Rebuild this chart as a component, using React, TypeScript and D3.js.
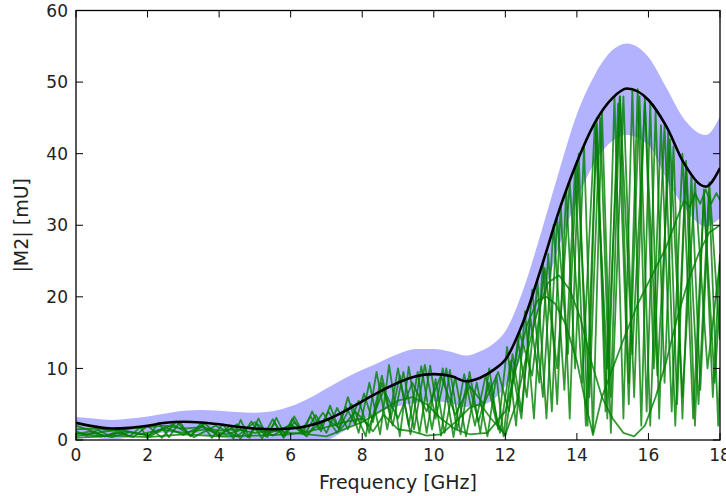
import React from 'react';
import * as d3 from 'd3';

// frequency grid for the mean curve and its spread band [GHz]
const bandFreq = [0, 0.5, 1, 1.5, 2, 2.5, 3, 3.5, 4, 4.5, 5, 5.5, 6, 6.5, 7, 7.5, 8, 8.5, 9, 9.5, 10, 10.5, 10.9, 11.3, 11.7, 12, 12.5, 13, 13.5, 14, 14.5, 15, 15.4, 16, 16.5, 17, 17.6, 18];
const meanVals = [2.4, 1.9, 1.6, 1.7, 2.0, 2.4, 2.55, 2.45, 2.2, 1.85, 1.6, 1.5, 1.6, 2.0, 2.8, 4.0, 5.4, 6.8, 8.0, 8.9, 9.2, 8.9, 8.2, 8.7, 9.9, 11.2, 16.5, 24, 32, 38.8, 44.3, 47.8, 49.1, 47.5, 43.8, 38.6, 35.4, 38];
const upperVals = [3.2, 3.0, 2.8, 3.0, 3.3, 3.7, 4.1, 4.2, 4.1, 3.9, 3.8, 4.0, 4.7, 5.8, 7.2, 8.6, 9.8, 10.9, 12.0, 12.7, 12.7, 12.3, 11.8, 12.4, 13.6, 15.2, 21, 29, 37.5, 45.5, 51, 54.5, 55.4, 53.5, 49.2, 44.8, 42.6, 45.2];
const lowerVals = [0.6, 0.3, 0.1, 0.4, 0.8, 1.0, 1.0, 0.8, 0.4, 0, -0.4, -0.8, -1.0, -0.7, -0.1, 1.3, 2.8, 4.0, 4.7, 5.2, 5.4, 5.1, 4.6, 4.8, 5.8, 7.5, 12, 19, 27, 33.5, 38.8, 41.8, 42.6, 41.2, 36.5, 32.5, 29.8, 31];

// individual traces, [freq, |M2|] turning points
const trace1: [number, number][] = [[0, 1.2], [0.3, 0.6], [0.6, 1.4], [0.9, 0.7], [1.2, 1.3], [1.5, 0.5], [1.8, 1.8], [2.0, 0.2], [2.3, 2.4], [2.6, 0.4], [2.9, 2.5], [3.2, 0.5], [3.5, 2.4], [3.8, 0.3], [4.1, 2.2], [4.4, 0.2], [4.6, 2.8], [4.85, 0.3], [5.1, 3.0], [5.35, 0.4], [5.6, 3.1], [5.85, 0.6], [6.1, 3.3], [6.35, 1.0], [6.6, 4.0], [6.85, 1.2], [7.1, 4.8], [7.35, 1.5], [7.6, 6.0], [7.9, 1.0], [8.2, 8.0], [8.5, 0.8], [8.75, 10.5], [9.05, 0.5], [9.3, 10.2], [9.6, 1.0], [9.9, 10.4], [10.2, 0.6], [10.45, 9.8], [10.75, 0.8], [11.0, 9.5], [11.3, 1.0], [11.55, 10], [11.8, 1.5], [12.05, 13], [12.3, 2.0], [12.55, 18], [12.8, 3], [13.05, 25], [13.3, 4], [13.55, 33], [13.8, 3], [14.05, 40], [14.3, 2], [14.55, 45], [14.8, 4], [15.05, 48], [15.3, 3], [15.55, 49], [15.8, 2], [16.05, 47], [16.3, 3], [16.55, 43], [16.8, 5], [17.05, 38], [17.3, 2], [17.55, 35], [17.8, 6], [18, 26]];
const trace2: [number, number][] = [[0, 0.8], [0.4, 1.2], [0.8, 0.5], [1.2, 1.0], [1.6, 0.4], [2.0, 2.0], [2.4, 0.3], [2.8, 2.6], [3.2, 0.6], [3.6, 2.3], [4.0, 0.5], [4.3, 2.0], [4.6, 0.2], [4.9, 2.6], [5.2, 0.2], [5.5, 2.9], [5.8, 0.3], [6.1, 2.5], [6.4, 0.8], [6.7, 3.5], [7.0, 1.0], [7.3, 4.5], [7.6, 1.5], [7.9, 5.5], [8.2, 1.0], [8.55, 9], [8.85, 2.0], [9.15, 9.5], [9.45, 1.5], [9.75, 10.5], [10.05, 3], [10.35, 10], [10.65, 1.5], [10.95, 8.5], [11.25, 2.5], [11.55, 8.0], [11.85, 1], [12.15, 11], [12.45, 3], [12.75, 21], [13.05, 6], [13.35, 30], [13.65, 7], [13.95, 38], [14.25, 2], [14.55, 44], [14.85, 3], [15.15, 47], [15.45, 5], [15.75, 48], [16.05, 2], [16.35, 44], [16.65, 4], [16.95, 40], [17.25, 3], [17.55, 34], [17.85, 8], [18, 20]];
const trace3: [number, number][] = [[0, 0.5], [0.5, 1.0], [1.0, 0.4], [1.5, 1.1], [2.0, 0.6], [2.5, 1.8], [3.0, 0.7], [3.5, 2.0], [4.0, 0.6], [4.5, 2.2], [4.8, 0.4], [5.05, 2.2], [5.3, 0.5], [5.55, 2.4], [5.8, 0.5], [6.05, 3.0], [6.3, 1.2], [6.55, 3.3], [6.8, 1.5], [7.05, 4.0], [7.3, 2.0], [7.55, 4.6], [7.8, 2.2], [8.05, 6.5], [8.3, 2.5], [8.55, 8.0], [8.8, 3.0], [9.05, 9.0], [9.3, 2.0], [9.55, 9.5], [9.8, 1.0], [10.05, 8.5], [10.3, 1.0], [10.6, 8.8], [10.9, 0.5], [11.2, 8.0], [11.5, 0.5], [11.75, 9], [11.95, 0.5], [12.2, 12], [12.45, 4], [12.7, 17], [12.95, 8], [13.2, 26], [13.45, 5], [13.7, 35], [13.95, 10], [14.2, 41], [14.45, 1], [14.7, 46], [14.95, 6], [15.2, 48], [15.45, 8], [15.7, 49], [15.95, 4], [16.2, 46], [16.45, 8], [16.7, 41], [16.95, 3], [17.2, 37], [17.45, 7], [17.7, 34], [17.95, 2], [18, 10]];
const trace4: [number, number][] = [[0, 1.5], [0.5, 1.6], [1.0, 1.3], [1.5, 1.6], [2.0, 1.8], [2.5, 2.0], [3.0, 1.6], [3.5, 1.8], [4.0, 1.3], [4.5, 1.5], [5.0, 1.0], [5.5, 1.3], [6.0, 1.0], [6.5, 0.8], [7.0, 0.5], [7.5, 1.5], [8.0, 2.5], [8.5, 4], [9.0, 5.5], [9.4, 6.0], [9.8, 5.0], [10.2, 3.0], [10.6, 1.5], [11.0, 0.8], [11.5, 1.0], [12.0, 4], [12.3, 10], [12.6, 16], [12.9, 19.5], [13.15, 20], [13.4, 19], [13.7, 16], [14.0, 11], [14.25, 5], [14.45, 0.7], [14.7, 6], [15.0, 10], [15.3, 14], [15.7, 19], [16.1, 23], [16.5, 27], [16.8, 31], [17.0, 33.5], [17.15, 32.5], [17.3, 34.5], [17.45, 33], [17.6, 35], [17.75, 33], [17.9, 34.5], [18, 33.5]];
const trace5: [number, number][] = [[0, 0.3], [1, 0.6], [2, 0.4], [3, 0.8], [4, 0.5], [5, 0.6], [6, 0.8], [6.5, 1.2], [7, 1.8], [7.5, 2.5], [8.0, 3.0], [8.3, 1.2], [8.6, 3.5], [9.0, 1.5], [9.4, 1.2], [9.8, 0.6], [10.2, 0.8], [10.6, 2.5], [11.0, 4.5], [11.3, 5], [11.6, 3], [12.0, 0.7], [12.3, 5], [12.6, 12], [12.9, 18], [13.2, 22], [13.5, 23], [13.8, 21], [14.1, 17], [14.4, 11], [14.7, 6], [15.0, 3], [15.3, 1], [15.6, 0.5], [15.9, 2], [16.2, 6], [16.5, 11], [16.8, 17], [17.1, 22], [17.4, 26], [17.7, 29], [18, 30]];
const trace6: [number, number][] = [[0, 2.0], [0.6, 1.0], [1.2, 1.5], [1.8, 0.8], [2.4, 1.5], [3.0, 1.0], [3.6, 1.5], [4.2, 0.8], [4.8, 1.7], [5.4, 1.0], [6.0, 2.0], [6.5, 1.0], [7.0, 3.0], [7.4, 1.5], [7.8, 4.0], [8.2, 2.0], [8.6, 7.0], [9.0, 3.0], [9.4, 8.0], [9.8, 4.0], [10.2, 9.0], [10.6, 3.5], [11.0, 7.5], [11.4, 5.0], [11.8, 9.5], [12.1, 4], [12.4, 15], [12.75, 9], [13.1, 24], [13.45, 10], [13.8, 36], [14.15, 8], [14.5, 44], [14.85, 10], [15.2, 48], [15.55, 12], [15.9, 47], [16.25, 9], [16.6, 42], [16.95, 6], [17.3, 36], [17.65, 10], [18, 25]];
const trace7: [number, number][] = [[0, 1.0], [0.7, 0.5], [1.4, 1.2], [2.1, 0.6], [2.7, 2.2], [3.3, 0.4], [3.9, 2.0], [4.5, 0.5], [5.0, 2.5], [5.5, 0.6], [6.0, 2.2], [6.45, 0.5], [6.9, 3.8], [7.3, 1.0], [7.7, 5.0], [8.1, 0.5], [8.4, 9.5], [8.7, 1.5], [9.0, 10.0], [9.35, 0.8], [9.65, 10.3], [9.95, 1.5], [10.25, 10.0], [10.55, 0.4], [10.85, 9.2], [11.15, 2.0], [11.45, 9.0], [11.75, 2.5], [12.0, 0.6], [12.35, 14], [12.6, 6], [12.9, 22], [13.15, 3], [13.45, 31], [13.75, 12], [14.0, 39], [14.35, 6], [14.65, 45], [14.95, 1], [15.3, 48], [15.6, 6], [15.9, 48], [16.15, 10], [16.45, 44], [16.75, 2], [17.05, 39], [17.4, 5], [17.7, 36], [18, 14]];

const traces = [trace1, trace2, trace3, trace4, trace5, trace6, trace7];

const xTicks = [0, 2, 4, 6, 8, 10, 12, 14, 16, 18];
const yTicks = [0, 10, 20, 30, 40, 50, 60];

const W = 726;
const H = 496;
const left = 76, right = 720, top = 10.5, bottom = 440;
const tickLen = 7;
const font = 'DejaVu Sans, sans-serif';

const App = () => {
    const x = d3.scaleLinear().domain([0, 18]).range([left, right]);
    const y = d3.scaleLinear().domain([0, 60]).range([bottom, top]);

    const band = d3.area<number>()
        .x((d, i) => x(bandFreq[i]))
        .y0((d, i) => y(lowerVals[i]))
        .y1((d, i) => y(upperVals[i]))
        .curve(d3.curveMonotoneX);

    const meanLine = d3.line<number>()
        .x((d, i) => x(bandFreq[i]))
        .y(d => y(d))
        .curve(d3.curveMonotoneX);

    const traceLine = d3.line<[number, number]>()
        .x(d => x(d[0]))
        .y(d => y(d[1]));

    return (
        <div style={{ position: 'absolute', left: 0, top: 0 }}>
            <svg width={W} height={H} style={{ display: 'block', background: '#fff' }}>
                <defs>
                    <clipPath id="plot">
                        <rect x={left} y={top} width={right - left} height={bottom - top} />
                    </clipPath>
                </defs>
                <g clipPath="url(#plot)">
                    <path d={band(bandFreq) || ''} fill="#0000ff" fillOpacity={0.3} stroke="none" />
                    {traces.map((t, i) => (
                        <path key={i} d={traceLine(t) || ''} fill="none" stroke="#008000" strokeOpacity={0.8} strokeWidth={1.8} strokeLinejoin="round" />
                    ))}
                    <path d={meanLine(meanVals) || ''} fill="none" stroke="#000" strokeWidth={2.6} />
                </g>

                {/* ticks, inside on all four sides */}
                {xTicks.map(t => (
                    <g key={'x' + t}>
                        <line x1={x(t)} x2={x(t)} y1={bottom} y2={bottom - tickLen} stroke="#000" strokeWidth={1} />
                        <line x1={x(t)} x2={x(t)} y1={top} y2={top + tickLen} stroke="#000" strokeWidth={1} />
                        <text x={x(t)} y={461} textAnchor="middle" fontFamily={font} fontSize={17} fill="#222">{t}</text>
                    </g>
                ))}
                {yTicks.map(t => (
                    <g key={'y' + t}>
                        <line x1={left} x2={left + tickLen} y1={y(t)} y2={y(t)} stroke="#000" strokeWidth={1} />
                        <line x1={right} x2={right - tickLen} y1={y(t)} y2={y(t)} stroke="#000" strokeWidth={1} />
                        <text x={68} y={y(t)} dy="0.36em" textAnchor="end" fontFamily={font} fontSize={17} fill="#222">{t}</text>
                    </g>
                ))}

                <rect x={left} y={top} width={right - left} height={bottom - top} fill="none" stroke="#000" strokeWidth={1.3} />

                <text x={(left + right) / 2} y={489} textAnchor="middle" fontFamily={font} fontSize={19} fill="#222">Frequency [GHz]</text>
                <text transform={`translate(28, ${(top + bottom) / 2}) rotate(-90)`} textAnchor="middle" fontFamily={font} fontSize={19} fill="#222">|M2| [mU]</text>
            </svg>
        </div>
    );
};

export default App;
